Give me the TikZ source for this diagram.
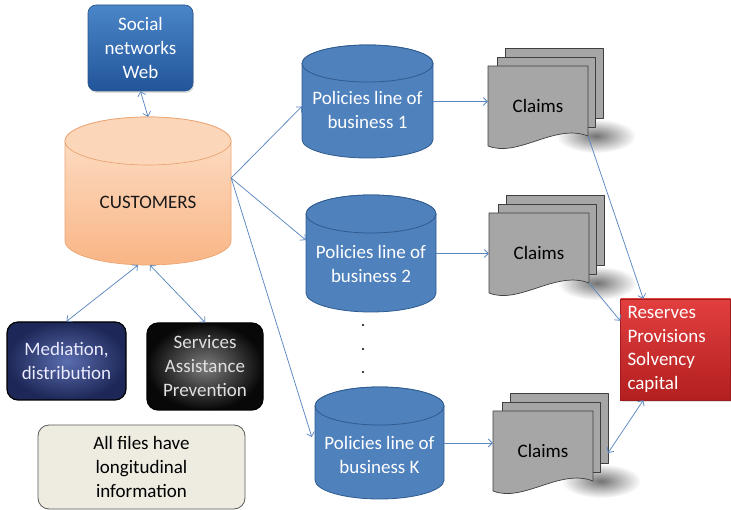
\documentclass[tikz,border=0pt]{standalone}
\usepackage{fontspec}
\setmainfont{Carlito}
\usetikzlibrary{arrows.meta,calc,shadows}

\definecolor{linkblue}{HTML}{5B87C0}
\definecolor{socialtop}{HTML}{4A86C8}
\definecolor{socialbot}{HTML}{22559A}
\definecolor{socialedge}{HTML}{2A5486}
\definecolor{custedge}{HTML}{EBA472}
\definecolor{custcap}{HTML}{FCD6B8}
\definecolor{custtop}{HTML}{FDE2CC}
\definecolor{custbot}{HTML}{F9B585}
\definecolor{polblue}{HTML}{4F81BD}
\definecolor{poledge}{HTML}{2F5B8F}
\definecolor{sheetgray}{HTML}{A6A6A6}
\definecolor{sheetedge}{HTML}{3F3F3F}
\definecolor{restop}{HTML}{E23F3F}
\definecolor{resbot}{HTML}{B31F1F}
\definecolor{medin}{HTML}{5A6DAF}
\definecolor{medout}{HTML}{1E2858}
\definecolor{servin}{HTML}{7C7C7C}
\definecolor{servout}{HTML}{080808}
\definecolor{notefill}{HTML}{EEECE1}
\definecolor{noteedge}{HTML}{5A5A5A}

% cylinder body: centre x, top y, bottom y, x radius, y radius, style
\newcommand\drawdrum[6]{%
  \path[#6] ({#1-#4},{#2+#5}) -- ({#1-#4},{#3-#5})
    arc[start angle=180,end angle=0,x radius=#4,y radius=#5]
    -- ({#1+#4},{#2+#5})
    arc[start angle=0,end angle=-180,x radius=#4,y radius=#5] -- cycle;
}

% stack of three claim sheets; #1 name, (#2,#3) top-left corner of the front sheet
\newcommand\claimstack[3]{%
  \path[shading=radial, inner color=black!55, outer color=white]
    ({#2+108},{#3+70}) ellipse[x radius=40,y radius=17];
  \draw[sheet] ({#2+17},{#3-18}) rectangle ({#2+115},{#3+52});
  \draw[sheet] ({#2+9},{#3-9}) rectangle ({#2+107},{#3+61});
  \draw[sheet] (#2,#3) -- ({#2+100},#3) -- ({#2+100},{#3+70})
    .. controls ({#2+67},{#3+57}) and ({#2+30},{#3+92}) .. (#2,{#3+80}) -- cycle;
  \node[area, txt, minimum width=100pt, minimum height=80pt] (#1) at ({#2+50},{#3+40}) {Claims};
  \coordinate (#1-se) at ({#2+100},{#3+70});
  \coordinate (#1-back) at ({#2+115},{#3+42});
}

\begin{document}
\begin{tikzpicture}[x=1pt,y=-1pt,
  txt/.style={font=\fontsize{19}{24}\selectfont, align=center, inner sep=0pt},
  area/.style={inner sep=0pt, draw=none},
  link/.style={draw=linkblue, line width=0.75pt},
  linkto/.style={link, -{Straight Barb[length=4pt,width=8pt]}},
  linkboth/.style={link, {Straight Barb[length=4pt,width=8pt]}-{Straight Barb[length=4pt,width=8pt]}},
  sheet/.style={fill=sheetgray, draw=sheetedge, line width=0.7pt, line join=round},
  custbody/.style={top color=custtop, bottom color=custbot, draw=custedge, line width=0.7pt},
  custcapstyle/.style={fill=custcap, draw=custedge, line width=0.7pt},
  polbody/.style={fill=polblue, draw=poledge, line width=0.8pt},
  socialbox/.style={txt, text=white, rounded corners=8pt, draw=socialedge, line width=0.6pt,
    top color=socialtop, bottom color=socialbot, minimum width=105pt, minimum height=86pt,
    drop shadow={opacity=0.25, shadow xshift=1pt, shadow yshift=-2pt}},
  medbox/.style={txt, text=white!92!blue, rounded corners=11pt, draw=black, line width=1.2pt,
    shading=radial, inner color=medin, outer color=medout, minimum width=119pt, minimum height=78pt},
  servbox/.style={txt, text=white!88!black, rounded corners=11pt, draw=black, line width=1.2pt,
    shading=radial, inner color=servin, outer color=servout, minimum width=116pt, minimum height=87pt},
  notebox/.style={txt, text=black, rounded corners=11pt, draw=noteedge, line width=0.8pt,
    fill=notefill, minimum width=207pt, minimum height=84pt},
  resbox/.style={txt, font=\fontsize{19}{23.5}\selectfont, text=white, align=left,
    text width=96pt, inner sep=7pt, minimum height=101pt,
    top color=restop, bottom color=resbot, draw=resbot!90!black, line width=0.5pt,
    drop shadow={opacity=0.25, shadow xshift=1.5pt, shadow yshift=-2pt}},
  dotmark/.style={circle, fill=black, inner sep=0pt, minimum size=2.2pt}
]
\useasboundingbox (0,0) rectangle (731,510);

% customers cylinder
\drawdrum{148}{117}{265}{83}{24}{custbody}
\path[custcapstyle] (148,141) ellipse[x radius=83,y radius=24];
\node[area, minimum width=166pt, minimum height=148pt] (cust) at (148,191) {};
\node[txt, text=black!90] (cust-label) at (148,202) {CUSTOMERS};

% policy cylinders
\drawdrum{367.5}{45}{158}{65.5}{18.5}{polbody}
\path[polbody] (367.5,63.5) ellipse[x radius=65.5,y radius=18.5];
\node[area, minimum width=131pt, minimum height=113pt] (p1) at (367.5,101.5) {};
\node[txt, text=white] (p1-label) at (367.5,110) {Policies line of\\business 1};

\drawdrum{371}{195}{312}{65}{19}{polbody}
\path[polbody] (371,214) ellipse[x radius=65,y radius=19];
\node[area, minimum width=130pt, minimum height=117pt] (p2) at (371,253.5) {};
\node[txt, text=white] (p2-label) at (371,263.5) {Policies line of\\business 2};

\drawdrum{379.5}{387}{499}{64.5}{19}{polbody}
\path[polbody] (379.5,406) ellipse[x radius=64.5,y radius=19];
\node[area, minimum width=129pt, minimum height=112pt] (pK) at (379.5,443) {};
\node[txt, text=white] (pK-label) at (379.5,454.5) {Policies line of\\business K};

\node[dotmark] (d1) at (363,325) {};
\node[dotmark] (d2) at (363,349) {};
\node[dotmark] (d3) at (363,372) {};

% boxes
\node[socialbox] (soc) at (140.5,48) {Social\\networks\\Web};
\node[medbox] (med) at (66.5,361) {Mediation,\\distribution};
\node[servbox] (serv) at (205,366.5) {Services\\Assistance\\Prevention};
\node[notebox] (note) at (141.5,467) {All files have\\longitudinal\\information};
\node[resbox] (res) at (675.5,349.5) {Reserves\\Provisions\\Solvency\\capital};

% claim stacks
\claimstack{c1}{488}{66}
\claimstack{c2}{489}{213}
\claimstack{cK}{493}{411}

% connectors
\coordinate (cust-out) at ($(cust.east)+(0,-13)$);
\coordinate (p1-in) at ($(p1.west)+(0,5)$);
\coordinate (p2-in) at ($(p2.west)+(0,-13.5)$);
\coordinate (pK-in) at ($(pK.west)+(-3,-6)$);
\coordinate (cust-b1) at ($(cust.south)+(-10,0)$);
\coordinate (cust-b2) at ($(cust.south)+(2,0)$);
\coordinate (res-top) at ($(res.north west)+(23,0)$);
\coordinate (res-left) at ($(res.north west)+(0,22)$);
\coordinate (res-bot) at ($(res.south west)+(23,0)$);

\draw[linkboth] (soc.south) -- (cust.north);
\draw[linkboth] (cust-b1) -- (med.north);
\draw[linkboth] (cust-b2) -- (serv.north);
\draw[linkto] (cust-out) -- (p1-in);
\draw[linkto] (cust-out) -- (p2-in);
\draw[linkto] (cust-out) -- (pK-in);
\draw[linkto] (p1.east) -- (p1.east -| c1.west);
\draw[linkto] (p2.east) -- (p2.east -| c2.west);
\draw[linkto] (pK.east) -- (pK.east -| cK.west);
\draw[linkto] (c1-se) -- (res-top);
\draw[linkto] (c2-se) -- (res-left);
\draw[linkboth] (cK-back) -- (res-bot);
\end{tikzpicture}
\end{document}
